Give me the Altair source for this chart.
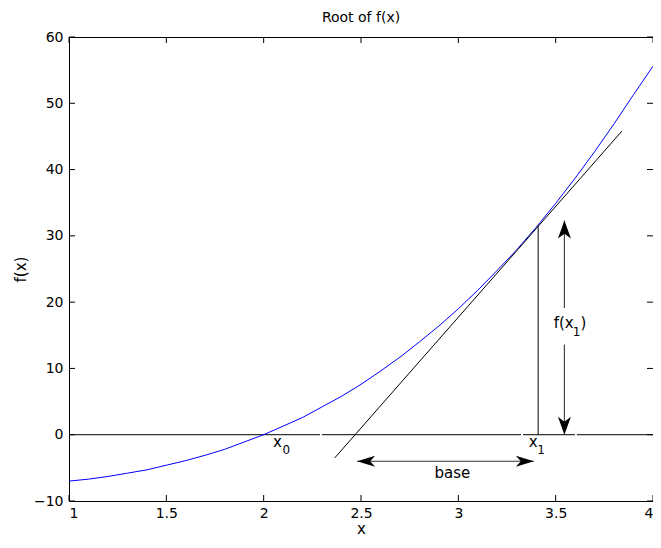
import altair as alt
import pandas as pd

# ---- data ----
curve_x = [1.0, 1.1, 1.2, 1.3, 1.4, 1.5, 1.6, 1.7, 1.8, 1.9, 2.0, 2.1, 2.2, 2.3, 2.4, 2.5,
           2.6, 2.7, 2.8, 2.9, 3.0, 3.1, 3.2, 3.3, 3.4, 3.5, 3.6, 3.7, 3.8, 3.9, 4.0]
curve_y = [-7.0, -6.7, -6.3, -5.8, -5.3, -4.6, -3.9, -3.1, -2.2, -1.1, 0.0, 1.3, 2.6, 4.2, 5.8, 7.6,
           9.6, 11.7, 14.0, 16.4, 19.0, 21.8, 24.8, 27.9, 31.3, 34.9, 38.7, 42.7, 46.9, 51.3, 55.6]
zero_x = [1.0, 4.0]
tangent_x = [2.365, 3.84]
tangent_y = [-3.5, 45.8]
x1_value = 3.41
fx1_value = 31.5
gap_x = [2.294, 3.327, 3.604]

varrow_x = 3.545
varrow_top = 32.3
varrow_bottom = 0.0
varrow_segments = [(32.3, 19.1), (13.6, 0.0)]
harrow_y = -4.0
harrow_left = 2.48
harrow_right = 3.388

x_ticks = [1, 1.5, 2, 2.5, 3, 3.5, 4]
y_ticks = [-10, 0, 10, 20, 30, 40, 50, 60]

labels_main = [("x", 2.071, -1.05), ("x", 3.385, -1.05), ("base", 2.969, -5.8)]
labels_sub = [("0", 2.116, -2.3), ("1", 3.425, -2.3)]
fx_parts = [("f(x", 3.49, 16.9, 15, "left"), ("1", 3.607, 15.5, 12, "center"), (")", 3.643, 16.9, 15, "center")]

W, H = 584, 464
FONT = "DejaVu Sans"

xs = alt.Scale(domain=[1, 4], nice=False, zero=False)
ys = alt.Scale(domain=[-10, 60], nice=False, zero=False)

xenc = lambda f: alt.X(f, type="quantitative", scale=xs,
                       axis=alt.Axis(values=x_ticks, format="~g", title="x", tickSize=0,
                                     domain=False, grid=False, labelPadding=5, titlePadding=1))
yenc = lambda f: alt.Y(f, type="quantitative", scale=ys,
                       axis=alt.Axis(values=y_ticks, format="~g", title="f(x)", tickSize=0,
                                     domain=False, grid=False, labelPadding=6, titlePadding=5))

curve = alt.Chart(pd.DataFrame({"x": curve_x, "y": curve_y})).mark_line(
    color="#0000ff", strokeWidth=1).encode(x=xenc("x"), y=yenc("y"))

zero = alt.Chart(pd.DataFrame({"x": [zero_x[0]], "x2": [zero_x[1]], "y": [0.0]})).mark_rule(
    color="black", strokeWidth=1).encode(x=alt.X("x:Q", scale=xs), x2="x2", y=alt.Y("y:Q", scale=ys))

gaps = alt.Chart(pd.DataFrame({"x": gap_x, "y": [-0.35] * 3, "y2": [0.35] * 3})).mark_rule(
    color="white", strokeWidth=2).encode(x=alt.X("x:Q", scale=xs), y=alt.Y("y:Q", scale=ys), y2="y2")

tangent = alt.Chart(pd.DataFrame({"x": tangent_x, "y": tangent_y})).mark_line(
    color="black", strokeWidth=1).encode(x=alt.X("x:Q", scale=xs), y=alt.Y("y:Q", scale=ys))

vline = alt.Chart(pd.DataFrame({"x": [x1_value], "y": [0.0], "y2": [fx1_value]})).mark_rule(
    color="black", strokeWidth=1).encode(x=alt.X("x:Q", scale=xs), y=alt.Y("y:Q", scale=ys), y2="y2")

vshaft = alt.Chart(pd.DataFrame({"x": [varrow_x] * 2,
                                 "y": [s[0] for s in varrow_segments],
                                 "y2": [s[1] for s in varrow_segments]})).mark_rule(
    color="#444444", strokeWidth=1.2).encode(x=alt.X("x:Q", scale=xs), y=alt.Y("y:Q", scale=ys), y2="y2")

hshaft = alt.Chart(pd.DataFrame({"x": [harrow_left], "x2": [harrow_right], "y": [harrow_y]})).mark_rule(
    color="#333333", strokeWidth=1.2).encode(x=alt.X("x:Q", scale=xs), x2="x2", y=alt.Y("y:Q", scale=ys))

UP = "M0,-1L0.72,1L0,0.45L-0.72,1Z"
DOWN = "M0,1L0.72,-1L0,-0.45L-0.72,-1Z"
LEFT = "M-1,0L1,0.62L0.45,0L1,-0.62Z"
RIGHT = "M1,0L-1,0.62L-0.45,0L-1,-0.62Z"


def head(x, y, shape, dx, dy):
    return alt.Chart(pd.DataFrame({"x": [x], "y": [y]})).mark_point(
        shape=shape, size=324, filled=True, color="black", opacity=1, xOffset=dx, yOffset=dy
    ).encode(x=alt.X("x:Q", scale=xs), y=alt.Y("y:Q", scale=ys))


heads = [
    head(varrow_x, varrow_top, UP, 0, 9),
    head(varrow_x, varrow_bottom, DOWN, 0, -9),
    head(harrow_left, harrow_y, LEFT, 9, 0),
    head(harrow_right, harrow_y, RIGHT, -9, 0),
]


def texts(rows, size, align="center"):
    return alt.Chart(pd.DataFrame(rows, columns=["t", "x", "y"])).mark_text(
        font=FONT, fontSize=size, color="black", baseline="middle", align=align).encode(
        x=alt.X("x:Q", scale=xs), y=alt.Y("y:Q", scale=ys), text="t:N")


main_text = texts(labels_main, 15)
sub_text = texts(labels_sub, 12)
fx_layers = [texts([(t, x, y)], s, a) for (t, x, y, s, a) in fx_parts]

# inward ticks on all four sides
tb = alt.Chart(pd.DataFrame({"x": x_ticks}))
ticks_bottom = tb.mark_rule(color="black").encode(x=alt.X("x:Q", scale=xs), y=alt.value(H), y2=alt.value(H - 6))
ticks_top = tb.mark_rule(color="black").encode(x=alt.X("x:Q", scale=xs), y=alt.value(0), y2=alt.value(6))
tl = alt.Chart(pd.DataFrame({"y": y_ticks}))
ticks_left = tl.mark_rule(color="black").encode(y=alt.Y("y:Q", scale=ys), x=alt.value(0), x2=alt.value(6))
ticks_right = tl.mark_rule(color="black").encode(y=alt.Y("y:Q", scale=ys), x=alt.value(W), x2=alt.value(W - 6))

chart = alt.layer(
    zero, curve, gaps, tangent, vline, vshaft, hshaft, *heads,
    main_text, sub_text, *fx_layers,
    ticks_bottom, ticks_top, ticks_left, ticks_right,
).properties(
    width=W, height=H,
    title=alt.TitleParams("Root of f(x)", font=FONT, fontSize=14, fontWeight="normal",
                          color="black", offset=5),
    autosize=alt.AutoSizeParams(type="none"),
    padding={"left": 61, "top": 29, "right": 0, "bottom": 35},
).configure(
    background="white"
).configure_view(
    stroke="black", strokeWidth=1
).configure_axis(
    labelFont=FONT, labelFontSize=14, labelColor="black",
    titleFont=FONT, titleFontSize=15, titleFontWeight="normal", titleColor="black",
)

chart.save("out.html", embed_options={"renderer": "svg", "actions": False})
